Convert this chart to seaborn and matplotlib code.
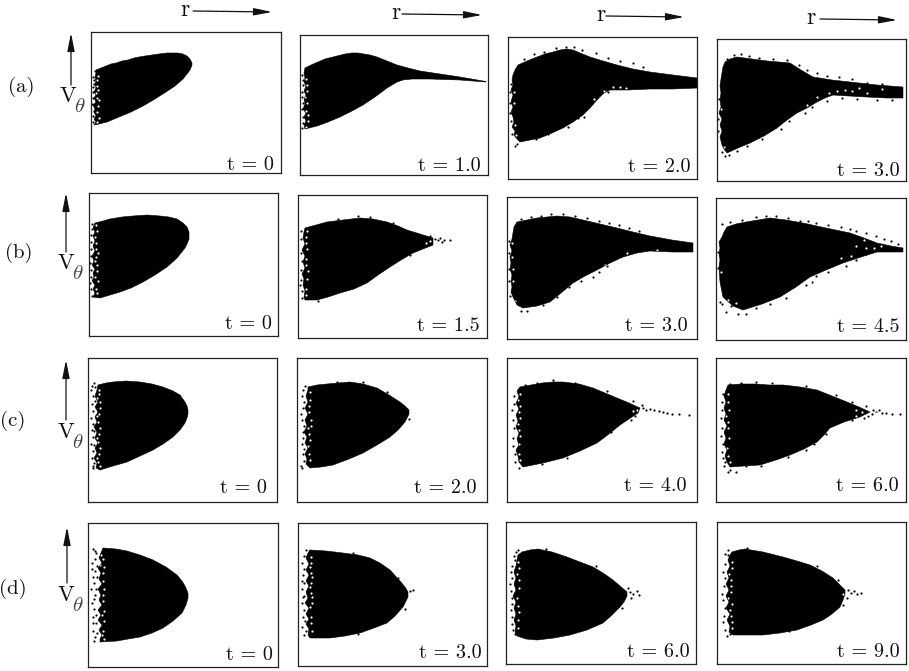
import matplotlib
matplotlib.use("Agg")
import matplotlib.pyplot as plt
import pandas as pd
import seaborn as sns

# outlines, (r, v) in panel pixels, v counted from the top of the panel
a1_top = [(5, 38), (10, 36), (15, 34), (20, 32), (25, 31), (31, 29), (37, 28), (43, 26), (48, 25), (54, 24), (61, 23), (68, 22), (76, 21), (82, 21), (87, 21), (92, 22), (96, 24), (99, 27), (101, 31)]
a1_bot = [(101, 33), (99, 38), (96, 42), (92, 47), (84, 54), (75, 60), (64, 67), (52, 74), (40, 80), (28, 85), (16, 90), (8, 92), (3, 93)]
a1_left = [(5, 90), (3, 87), (5, 84), (3, 80), (4, 77), (2, 73), (5, 70), (3, 66), (5, 63), (3, 60), (5, 56), (4, 52), (5, 49), (4, 45), (5, 41)]
a1_dots = [(2, 45), (3, 48), (2, 60), (1, 72), (2, 84), (3, 52), (2, 90), (2, 66), (3, 79), (2, 55), (4, 39)]
a1_holes = [(6, 48), (7, 58), (6, 66), (7, 74), (8, 86), (6, 80), (6, 54), (8, 68), (7, 44), (6, 90), (5, 61)]

a2_top = [(5, 33), (11, 30), (18, 27), (25, 24), (33, 22), (45, 19), (52, 18), (58, 18), (64, 19), (70, 20), (77, 22), (87, 26), (97, 30), (108, 33), (120, 36), (140, 39), (160, 42), (186, 46.5)]
a2_bot = [(186, 47), (160, 45), (130, 44), (112, 44), (103, 45), (97, 47), (87, 53), (75, 62), (63, 70), (52, 76), (40, 82), (28, 87), (17, 91), (5, 94)]
a2_left = [(4, 90), (6, 86), (4, 82), (6, 78), (3, 74), (5, 69), (4, 64), (6, 60), (4, 56), (6, 51), (4, 47), (5, 43), (4, 38)]
a2_dots = [(2, 40), (3, 50), (2, 62), (2, 74), (3, 82), (2, 93), (3, 68), (3, 45), (2, 57), (3, 88)]
a2_holes = [(6, 44), (7, 56), (7, 68), (6, 76), (8, 86), (5, 62), (7, 50), (8, 80), (6, 92)]

a3_top = [(5, 38), (7, 33), (10, 28), (19, 24), (29, 20), (37, 17), (45, 15), (52, 13), (59, 12), (65, 13), (72, 16), (82, 20), (95, 24), (109, 28), (125, 32), (142, 35), (165, 38), (189, 41)]
a3_bot = [(189, 51), (165, 52), (142, 52), (120, 53), (102, 53), (96, 56), (89, 63), (82, 71), (75, 78), (65, 85), (55, 91), (44, 96), (32, 101), (22, 103), (12, 105)]
a3_left = [(9, 102), (6, 98), (7, 94), (4, 90), (6, 85), (5, 80), (3, 75), (5, 70), (3, 65), (5, 58), (3, 53), (5, 48), (4, 43)]
a3_dots = [(8, 32), (16, 22), (26, 17), (36, 15), (48, 11), (58, 10), (66, 10), (74, 13), (88, 16), (100, 21), (112, 24), (125, 26), (135, 30), (100, 55), (108, 50), (88, 58), (84, 66), (76, 80), (70, 81), (60, 90), (50, 91), (40, 97), (28, 102), (9, 107), (7, 109), (2, 76), (2, 55), (2, 66), (3, 84), (4, 97), (3, 47)]
a3_holes = [(105, 50), (112, 50), (118, 51), (92, 60), (96, 54), (6, 66), (7, 88), (6, 55), (8, 98), (86, 62)]

a4_top = [(5, 34), (6, 28), (8, 23), (13, 20), (20, 18), (35, 20), (50, 22), (62, 23), (73, 24), (84, 31), (96, 38), (115, 41), (133, 43), (160, 46), (186, 48)]
a4_bot = [(186, 59), (170, 59), (150, 58), (132, 57), (116, 56), (108, 59), (100, 63), (90, 69), (80, 74), (70, 81), (60, 89), (47, 97), (33, 104), (21, 109), (10, 114)]
a4_left = [(7, 110), (5, 106), (3, 98), (5, 92), (3, 86), (5, 80), (2, 74), (4, 68), (3, 60), (4, 54), (3, 47), (4, 40)]
a4_dots = [(10, 20), (17, 16), (24, 15), (32, 17), (42, 19), (56, 20), (70, 21), (82, 26), (90, 31), (100, 34), (110, 37), (122, 38), (135, 40), (150, 44), (165, 45), (175, 61), (160, 61), (140, 60), (125, 59), (110, 62), (95, 68), (88, 74), (72, 82), (64, 90), (45, 100), (30, 107), (20, 112), (12, 116), (8, 117), (5, 113), (1, 80), (2, 60), (1, 92)]
a4_holes = [(120, 52), (128, 51), (135, 52), (150, 54), (142, 49), (100, 58), (90, 66), (4, 70), (112, 54), (7, 108), (165, 50)]

b1_top = [(6, 30), (14, 28), (21, 26), (33, 24), (44, 23), (58, 22), (71, 23), (80, 24), (88, 26), (94, 30), (98, 34), (100, 39), (100, 42)]
b1_bot = [(100, 46), (98, 51), (96, 55), (88, 65), (78, 74), (66, 82), (54, 89), (42, 95), (31, 99), (21, 102), (11, 105), (4, 104)]
b1_left = [(6, 100), (4, 96), (6, 92), (3, 88), (5, 84), (4, 80), (6, 76), (3, 72), (5, 68), (3, 63), (6, 58), (4, 53), (6, 48), (4, 43), (6, 39), (4, 35)]
b1_dots = [(2, 42), (2, 56), (1, 70), (2, 84), (2, 96), (3, 31), (2, 49), (2, 63), (2, 77), (1, 90), (3, 103), (3, 36)]
b1_holes = [(8, 38), (7, 50), (9, 60), (6, 68), (8, 78), (9, 88), (7, 96), (7, 32), (6, 44), (7, 56), (8, 72), (6, 84), (8, 100), (7, 64)]

b2_top = [(7, 33), (18, 30), (29, 27), (45, 25), (62, 23), (75, 24), (89, 27), (100, 31), (109, 35), (122, 39), (135, 43)]
b2_bot = [(135, 50), (125, 54), (115, 58), (103, 65), (92, 72), (80, 80), (69, 88), (56, 94), (42, 98), (30, 102), (19, 105), (7, 105)]
b2_left = [(6, 102), (7, 96), (5, 90), (6, 84), (4, 79), (7, 73), (5, 67), (7, 61), (4, 55), (7, 49), (5, 43), (6, 37)]
b2_dots = [(137, 44), (140, 45), (146, 45), (152, 45), (130, 47), (3, 44), (4, 66), (3, 85), (4, 96), (60, 21), (20, 106), (3, 36), (3, 58), (3, 75), (2, 90), (4, 103), (40, 24), (72, 22), (95, 28), (112, 60), (132, 41), (142, 43), (144, 47)]
b2_holes = [(8, 42), (9, 54), (8, 64), (10, 76), (8, 94), (132, 46), (9, 36), (8, 48), (8, 70), (9, 84), (8, 100), (128, 48), (136, 46)]

b3_top = [(6, 36), (7, 30), (10, 25), (30, 21), (50, 19), (63, 20), (76, 23), (93, 27), (110, 31), (126, 35), (143, 39), (165, 43), (186, 46)]
b3_bot = [(186, 55), (165, 55), (143, 54), (130, 56), (116, 60), (103, 66), (90, 73), (78, 79), (66, 86), (54, 96), (43, 105), (30, 109), (16, 111), (10, 108), (6, 100)]
b3_left = [(4, 95), (5, 90), (4, 84), (5, 78), (3, 72), (4, 66), (3, 60), (5, 54), (3, 48), (5, 42)]
b3_dots = [(14, 22), (24, 20), (34, 19), (44, 17), (56, 17), (68, 19), (80, 21), (92, 24), (102, 26), (112, 28), (122, 31), (132, 34), (100, 69), (92, 75), (86, 80), (74, 84), (62, 90), (50, 100), (36, 108), (20, 114), (14, 114), (2, 72), (2, 56), (2, 84), (2, 44), (3, 99)]
b3_holes = [(5, 60), (6, 84), (150, 53), (112, 62), (5, 46), (6, 72), (8, 104), (120, 56), (98, 68)]

b4_top = [(6, 39), (8, 34), (11, 29), (20, 26), (30, 24), (42, 22), (54, 20), (70, 22), (87, 25), (110, 30), (134, 35), (148, 40), (161, 45), (175, 48), (187, 50)]
b4_bot = [(187, 54), (175, 54), (161, 54), (145, 59), (127, 65), (110, 72), (94, 79), (80, 89), (64, 99), (46, 106), (27, 112), (17, 108), (7, 99), (4, 84), (3, 69)]
b4_left = [(4, 62), (3, 56), (4, 50), (3, 44)]
b4_dots = [(6, 26), (14, 24), (26, 22), (40, 19), (50, 18), (60, 18), (72, 20), (84, 23), (92, 23), (100, 25), (112, 27), (125, 29), (134, 31), (140, 33), (150, 35), (160, 38), (168, 41), (175, 43), (182, 46), (150, 56), (140, 62), (130, 68), (112, 74), (100, 78), (96, 84), (90, 87), (70, 100), (54, 106), (40, 110), (30, 116), (15, 108), (10, 114), (6, 106), (4, 104), (22, 116), (2, 70), (2, 54)]
b4_holes = [(140, 48), (150, 50), (165, 48), (135, 58), (94, 84), (20, 105), (125, 60), (158, 50), (12, 102), (5, 74), (148, 42)]

c1_top = [(10, 27), (18, 25), (25, 24), (38, 23), (52, 24), (64, 26), (75, 29), (85, 33), (92, 37), (97, 44), (99, 48), (100, 52)]
c1_bot = [(100, 56), (99, 60), (97, 65), (92, 72), (85, 79), (75, 86), (65, 92), (52, 98), (39, 104), (25, 108), (12, 112)]
c1_left = [(8, 110), (9, 105), (6, 100), (9, 95), (7, 90), (10, 85), (7, 80), (9, 74), (6, 69), (9, 64), (7, 59), (10, 54), (7, 49), (10, 44), (7, 38), (9, 32)]
c1_dots = [(3, 32), (4, 46), (3, 60), (4, 72), (3, 86), (4, 100), (5, 110), (5, 38), (5, 53), (5, 66), (5, 79), (5, 93), (6, 105), (4, 28), (6, 25), (7, 43), (6, 87), (6, 73), (5, 108), (7, 29)]
c1_holes = [(11, 32), (9, 40), (12, 50), (9, 58), (12, 70), (9, 80), (12, 90), (10, 104), (11, 36), (12, 44), (11, 56), (10, 64), (11, 76), (10, 84), (11, 96), (9, 100), (12, 108)]

c2_top = [(11, 29), (20, 27), (30, 26), (41, 25), (53, 24), (66, 26), (80, 30), (92, 37), (103, 44), (108, 48), (112, 52)]
c2_bot = [(112, 56), (108, 64), (101, 72), (93, 79), (80, 87), (66, 95), (52, 101), (36, 107), (24, 109), (13, 110)]
c2_left = [(9, 106), (10, 101), (8, 96), (11, 90), (8, 85), (10, 79), (7, 74), (10, 68), (8, 62), (11, 56), (8, 50), (11, 44), (9, 38), (11, 32)]
c2_dots = [(5, 38), (6, 50), (5, 62), (6, 74), (5, 86), (4, 108), (6, 96), (112, 61), (6, 32), (7, 44), (4, 56), (7, 68), (6, 80), (7, 91), (7, 103), (5, 110), (8, 28), (40, 24), (66, 24), (90, 34)]
c2_holes = [(13, 42), (12, 48), (14, 62), (11, 70), (13, 82), (12, 96), (13, 34), (12, 54), (12, 76), (11, 88), (13, 102), (14, 68)]

c3_top = [(13, 29), (24, 27), (35, 25), (46, 24), (56, 24), (72, 26), (86, 30), (98, 35), (110, 40), (122, 45), (133, 50)]
c3_bot = [(131, 55), (122, 61), (113, 67), (102, 76), (90, 85), (73, 93), (56, 100), (36, 105), (16, 109)]
c3_left = [(12, 104), (11, 98), (9, 92), (12, 87), (10, 81), (12, 75), (9, 69), (11, 63), (9, 57), (12, 51), (9, 45), (12, 39), (10, 33)]
c3_dots = [(136, 50), (139, 52), (143, 51), (147, 52), (152, 53), (156, 54), (160, 55), (165, 56), (172, 56), (182, 57), (128, 58), (104, 74), (18, 27), (7, 46), (6, 62), (6, 80), (8, 96), (12, 110), (7, 38), (5, 52), (7, 70), (6, 88), (8, 104), (30, 25), (46, 22), (68, 25), (100, 33), (126, 43), (135, 47), (124, 62), (60, 100), (35, 106)]
c3_holes = [(11, 42), (12, 54), (11, 66), (13, 78), (12, 96), (126, 53), (13, 36), (13, 48), (13, 60), (12, 72), (12, 86), (13, 102), (130, 52)]

c4_top = [(12, 27), (25, 26), (40, 26), (53, 27), (67, 27), (84, 29), (101, 32), (116, 38), (131, 44), (143, 49), (154, 54)]
c4_bot = [(144, 59), (128, 64), (114, 70), (108, 77), (101, 84), (88, 91), (74, 97), (60, 102), (44, 107), (28, 108), (14, 109)]
c4_left = [(11, 104), (9, 98), (11, 92), (8, 86), (10, 80), (8, 74), (11, 68), (8, 62), (10, 56), (8, 50), (10, 44), (8, 38), (10, 32)]
c4_dots = [(157, 52), (160, 54), (163, 52), (166, 55), (170, 55), (176, 56), (184, 56), (148, 60), (136, 62), (110, 76), (90, 92), (60, 100), (30, 108), (14, 112), (20, 114), (6, 44), (5, 60), (5, 78), (6, 94), (9, 104), (14, 26), (25, 25), (7, 36), (6, 52), (6, 70), (7, 86), (7, 100), (40, 24), (56, 25), (90, 28), (120, 37), (136, 44), (150, 48), (156, 56), (12, 114), (45, 108), (72, 99), (98, 86), (152, 58), (8, 108)]
c4_holes = [(12, 44), (10, 58), (12, 70), (11, 90), (152, 56), (160, 55), (14, 104), (12, 36), (13, 52), (12, 64), (13, 80), (12, 98), (146, 54), (140, 52), (140, 58)]

d1_top = [(15, 25), (28, 26), (39, 28), (52, 32), (65, 37), (78, 44), (89, 52), (94, 58), (97, 63), (100, 70)]
d1_bot = [(100, 75), (98, 82), (94, 90), (85, 98), (75, 105), (64, 110), (52, 114), (40, 116), (29, 118), (12, 119)]
d1_left = [(12, 116), (14, 112), (11, 107), (14, 102), (10, 97), (13, 92), (10, 87), (14, 82), (11, 77), (13, 72), (10, 66), (14, 61), (11, 56), (13, 50), (10, 45), (14, 40), (11, 35), (13, 30)]
d1_dots = [(5, 26), (4, 40), (5, 54), (3, 66), (4, 80), (5, 94), (5, 108), (6, 118), (8, 30), (7, 36), (7, 48), (6, 60), (7, 72), (6, 86), (8, 100), (7, 114), (9, 43), (8, 66), (8, 92), (9, 110), (6, 76), (5, 100), (9, 54), (7, 28), (4, 46)]
d1_holes = [(13, 32), (12, 42), (15, 50), (12, 60), (15, 72), (11, 82), (14, 92), (12, 102), (14, 112), (15, 36), (16, 44), (15, 58), (16, 66), (15, 78), (16, 88), (16, 98), (15, 108), (16, 116)]

d2_top = [(12, 27), (28, 28), (45, 30), (60, 32), (72, 35), (82, 40), (92, 47), (102, 58), (107, 64), (110, 69)]
d2_bot = [(110, 74), (105, 84), (97, 93), (89, 100), (76, 105), (62, 110), (47, 113), (32, 115), (12, 115)]
d2_left = [(10, 112), (11, 106), (8, 101), (11, 96), (8, 91), (11, 85), (7, 80), (10, 75), (8, 69), (11, 63), (8, 58), (11, 52), (8, 47), (11, 41), (8, 35), (10, 30)]
d2_dots = [(4, 40), (5, 52), (4, 66), (4, 80), (5, 94), (4, 104), (6, 112), (112, 68), (115, 67), (6, 33), (6, 46), (6, 60), (6, 73), (6, 87), (7, 98), (8, 108), (8, 27), (5, 74), (4, 58), (55, 30), (100, 55), (107, 86), (60, 111)]
d2_holes = [(13, 34), (12, 44), (14, 54), (12, 64), (14, 74), (12, 84), (13, 94), (112, 72), (13, 40), (13, 50), (13, 60), (13, 70), (14, 80), (13, 100), (14, 108)]

d3_top = [(16, 30), (24, 28), (32, 27), (46, 30), (61, 35), (74, 40), (87, 45), (97, 51), (107, 58), (114, 64), (121, 70)]
d3_bot = [(121, 74), (118, 80), (114, 85), (106, 93), (97, 101), (81, 108), (64, 113), (48, 116), (31, 118), (20, 117), (11, 114)]
d3_left = [(9, 110), (10, 104), (8, 98), (10, 92), (8, 86), (10, 80), (7, 74), (10, 68), (8, 62), (10, 56), (8, 50), (10, 44), (11, 38), (12, 33)]
d3_dots = [(124, 70), (127, 72), (131, 69), (125, 76), (133, 73), (5, 50), (4, 62), (6, 76), (5, 88), (6, 102), (9, 38), (10, 30), (6, 44), (6, 56), (5, 69), (6, 82), (6, 95), (7, 108), (9, 112), (8, 34), (12, 28), (40, 27), (90, 44), (122, 66), (116, 86)]
d3_holes = [(12, 40), (11, 52), (13, 66), (11, 76), (13, 90), (122, 73), (13, 46), (13, 58), (12, 84), (12, 98), (12, 106), (124, 73)]

d4_top = [(15, 30), (22, 28), (28, 27), (46, 30), (66, 35), (80, 39), (93, 43), (105, 49), (116, 56), (122, 62), (128, 68)]
d4_bot = [(128, 72), (126, 78), (123, 85), (115, 92), (106, 98), (94, 103), (80, 108), (63, 111), (46, 113), (30, 113), (16, 113)]
d4_left = [(12, 110), (13, 104), (10, 98), (13, 92), (9, 86), (12, 80), (9, 74), (12, 68), (9, 62), (12, 56), (10, 50), (13, 44), (11, 38), (13, 33)]
d4_dots = [(131, 68), (134, 71), (137, 69), (140, 72), (144, 71), (130, 76), (121, 58), (6, 50), (7, 64), (6, 78), (7, 94), (8, 108), (11, 33), (13, 112), (8, 42), (8, 56), (5, 72), (8, 86), (6, 100), (10, 114), (11, 28), (8, 32), (30, 26), (100, 44), (126, 83), (72, 109)]
d4_holes = [(15, 40), (12, 52), (14, 64), (11, 76), (13, 88), (15, 100), (126, 72), (15, 46), (14, 58), (14, 70), (15, 82), (14, 94), (15, 106)]

panel_names = ["a1", "a2", "a3", "a4", "b1", "b2", "b3", "b4", "c1", "c2", "c3", "c4", "d1", "d2", "d3", "d4"]
times = ["0", "1.0", "2.0", "3.0", "0", "1.5", "3.0", "4.5", "0", "2.0", "4.0", "6.0", "0", "3.0", "6.0", "9.0"]
row_labels = ["(a)", "(b)", "(c)", "(d)"]

# panel boxes in picture pixels: left, right, top, bottom
boxes = [
    (91, 281, 32, 173), (300, 488, 35, 175), (508, 697, 37, 179), (717, 906, 39, 181),
    (89, 278, 193, 336), (298, 487, 195, 338), (507, 697, 197, 339), (716, 906, 198, 340),
    (88, 277, 358, 502), (297, 487, 358, 502), (507, 697, 358, 502), (716, 906, 358, 502),
    (88, 278, 523, 667), (298, 487, 523, 666), (506, 696, 522, 664), (717, 906, 522, 664),
]
# where the t label ends, inset from the right and bottom edge
label_inset = [
    (7, 3), (7, 4), (6, 7), (6, 5), (6, 7), (7, 7), (9, 8), (7, 8),
    (10, 9), (10, 9), (10, 11), (7, 11), (5, 7), (5, 8), (6, 7), (6, 7),
]
r_pos = [(185, 193, 272, 11), (396, 402, 482, 14), (601, 606, 684, 16), (811, 820, 897, 19)]
v_pos = [(71, 85, 33, 68, 102), (66, 252, 193, 66, 269), (66, 420, 360, 66, 438), (67, 583, 527, 66, 601)]
row_pos = [(21, 87), (19, 253), (13, 421), (13, 589)]

W, H = 909, 671
ARROW = "-|>,head_length=1.0,head_width=0.2"

sns.set_style("white")
plt.rcParams["font.family"] = ["cmr10", "DejaVu Serif"]
plt.rcParams["mathtext.fontset"] = "cm"
plt.rcParams["axes.formatter.use_mathtext"] = True

fig = plt.figure(figsize=(W / 100, H / 100), dpi=100)

for i, name in enumerate(panel_names):
    top = globals()[name + "_top"]
    bot = globals()[name + "_bot"]
    left = globals()[name + "_left"]
    dots = globals()[name + "_dots"]
    holes = globals()[name + "_holes"]

    x0, x1, y0, y1 = boxes[i]
    w, h = x1 - x0, y1 - y0
    ax = fig.add_axes([x0 / W, 1 - y1 / H, w / W, h / H])

    outline = pd.DataFrame(top + bot + left + top[:1], columns=["r", "v"])
    ax.fill(outline["r"], outline["v"], color="black", lw=0)
    sns.lineplot(data=outline, x="r", y="v", sort=False, estimator=None, color="black", lw=0.4, ax=ax)
    sns.scatterplot(data=pd.DataFrame(dots, columns=["r", "v"]), x="r", y="v", s=2.5, color="black", lw=0, ax=ax)
    sns.scatterplot(data=pd.DataFrame(holes, columns=["r", "v"]), x="r", y="v", s=2.5, color="white", lw=0, ax=ax)

    ax.set_xlim(0, w)
    ax.set_ylim(h, 0)
    ax.set_xticks([])
    ax.set_yticks([])
    ax.set_xlabel("")
    ax.set_ylabel("")
    for s in ax.spines.values():
        s.set_linewidth(0.9)
        s.set_color("#222222")

    ins_x, ins_y = label_inset[i]
    ax.text(w - ins_x, h - ins_y, "t = " + times[i], ha="right", va="baseline", fontsize=14.5, color="#111111")

overlay = fig.add_axes([0, 0, 1, 1], facecolor="none")
overlay.set_xlim(0, W)
overlay.set_ylim(H, 0)
overlay.axis("off")

for tx, ax0, ax1, ay in r_pos:
    overlay.text(tx, ay - 1, "r", ha="center", va="center", fontsize=17, color="#111111")
    overlay.annotate("", xy=(ax1, ay + 1), xytext=(ax0, ay),
                     arrowprops=dict(arrowstyle=ARROW, lw=0.9, color="#111111", mutation_scale=11, shrinkA=0, shrinkB=0))

for ax_x, ay0, ay1, tx, ty in v_pos:
    overlay.annotate("", xy=(ax_x, ay1), xytext=(ax_x, ay0),
                     arrowprops=dict(arrowstyle=ARROW, lw=0.9, color="#111111", mutation_scale=11, shrinkA=0, shrinkB=0))
    overlay.text(tx, ty, "V", ha="center", va="baseline", fontsize=16, color="#111111")
    overlay.text(tx + 12, ty + 10, r"$\theta$", ha="center", va="baseline", fontsize=15, color="#444444")

for label, (tx, ty) in zip(row_labels, row_pos):
    overlay.text(tx, ty, label, ha="center", va="center", fontsize=15, color="#111111")

fig.savefig("out.png", dpi=100, facecolor="white")
